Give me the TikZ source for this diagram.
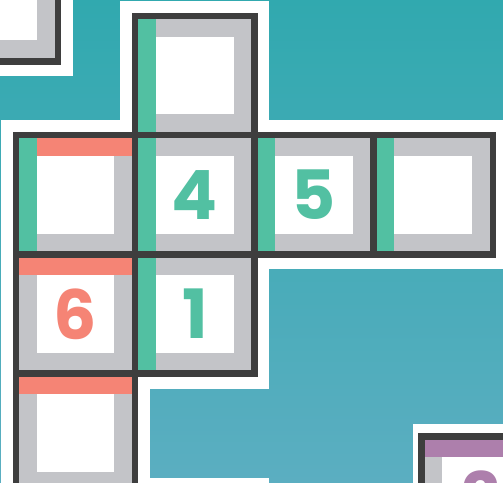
\documentclass[tikz,border=0pt]{standalone}
\usepackage{fontspec}
\usetikzlibrary{positioning, calc}
\newfontfamily\digitfont{Poppins}

\definecolor{netdark}{HTML}{3E3E3E}
\definecolor{framegray}{HTML}{C3C4C8}
\definecolor{mint}{HTML}{52C0A2}
\definecolor{salmon}{HTML}{F58475}
\definecolor{plum}{HTML}{AD7FAC}
\definecolor{bgtop}{HTML}{31A9AF}
\definecolor{bgbottom}{HTML}{5BAEC1}

\begin{document}
\begin{tikzpicture}[
    x=1pt, y=-1pt,
    halo/.style={fill=white, minimum size=149.2pt, inner sep=0pt, outer sep=0pt},
    face/.style={draw=netdark, fill=framegray, line width=6.4pt, minimum size=119.2pt, inner sep=0pt, outer sep=0pt},
    hole/.style={fill=white, minimum size=77.5pt, inner sep=0pt, outer sep=0pt, text=#1,
        font=\digitfont\bfseries\fontsize{68}{68}\selectfont},
    hole/.default=white
]
    \useasboundingbox (0,0) rectangle (503,482);
    \clip (0,0) rectangle (503,482);
    \fill[top color=bgtop, bottom color=bgbottom] (0,0) rectangle (503,482);

    % white margin round the nets
    \node[halo] (gcorner) at (-1.6,1.7) {};
    \node[halo] (gtop) at (194.8,75.6) {};
    \node[halo] (gleft) at (75.6,194.8) {};
    \node[halo] (gfour) at (194.8,194.8) {};
    \node[halo] (gfive) at (314,194.8) {};
    \node[halo] (gright) at (433.2,194.8) {};
    \node[halo] (gsix) at (75.6,314) {};
    \node[halo] (gone) at (194.8,314) {};
    \node[halo] (glow) at (75.6,433.2) {};
    \node[halo] (gbelow) at (194.8,552.4) {};
    \node[halo, minimum width=136.4pt, minimum height=143.8pt] (gpeek) at (480.9,495.9) {};

    % faces
    \node[face] (fcorner) at (gcorner) {};
    \node[face] (ftop) at (gtop) {};
    \node[face] (fleft) at (gleft) {};
    \node[face] (ffour) at (gfour) {};
    \node[face] (ffive) at (gfive) {};
    \node[face] (fright) at (gright) {};
    \node[face] (fsix) at (gsix) {};
    \node[face] (fone) at (gone) {};
    \node[face] (flow) at (glow) {};
    \node[face] (fpeek) at (gpeek) {};

    % coloured edges
    \fill[mint] (ftop.center) ++(-56.4,-56.4) rectangle ++(17.65,112.8);
    \fill[salmon] (fleft.center) ++(-56.4,-56.4) rectangle ++(112.8,17.65);
    \fill[mint] (fleft.center) ++(-56.4,-56.4) rectangle ++(17.65,112.8);
    \fill[mint] (ffour.center) ++(-56.4,-56.4) rectangle ++(17.65,112.8);
    \fill[mint] (ffive.center) ++(-56.4,-56.4) rectangle ++(17.65,112.8);
    \fill[mint] (fright.center) ++(-56.4,-56.4) rectangle ++(17.65,112.8);
    \fill[salmon] (fsix.center) ++(-56.4,-56.4) rectangle ++(112.8,17.65);
    \fill[mint] (fone.center) ++(-56.4,-56.4) rectangle ++(17.65,112.8);
    \fill[salmon] (flow.center) ++(-56.4,-56.4) rectangle ++(112.8,17.65);
    \fill[plum] (fpeek.center) ++(-56.4,-56.4) rectangle ++(112.8,17.65);

    % white centres and numbers
    \node[hole] (hcorner) at (fcorner) {};
    \node[hole] (htop) at (ftop) {};
    \node[hole] (hleft) at (fleft) {};
    \node[hole=mint] (hfour) at (ffour) {4};
    \node[hole=mint] (hfive) at (ffive) {5};
    \node[hole] (hright) at (fright) {};
    \node[hole=salmon] (hsix) at (fsix) {6};
    \node[hole=mint] (hone) at (fone) {1};
    \node[hole] (hlow) at (flow) {};
    \node[hole=plum] (hpeek) at (fpeek) {2};
\end{tikzpicture}
\end{document}
